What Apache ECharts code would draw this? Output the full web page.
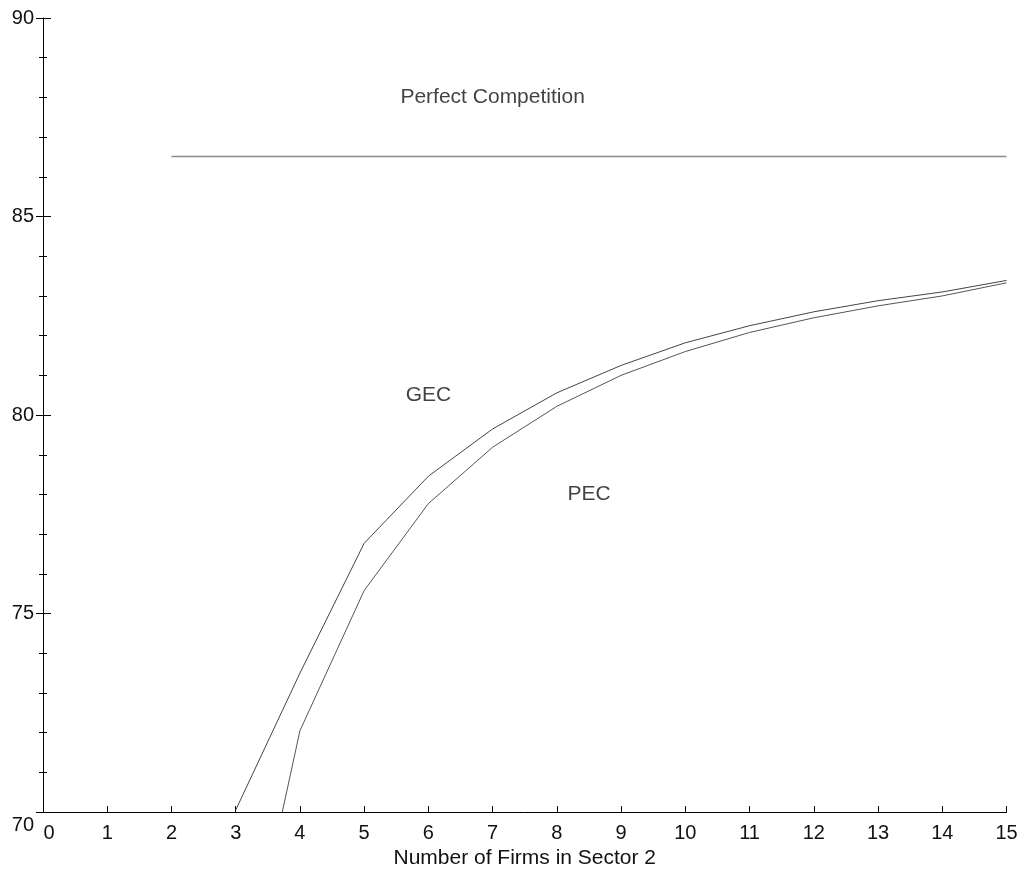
<!DOCTYPE html>
<html>
<head>
<meta charset="utf-8">
<script src="https://cdn.jsdelivr.net/npm/echarts@6/dist/echarts.min.js"></script>
<style>
html,body{margin:0;padding:0;background:#fff;}
#chart{width:1026px;height:874px;}
</style>
</head>
<body>
<div id="chart"></div>
<script>
var firms = [3, 4, 5, 6, 7, 8, 9, 10, 11, 12, 13, 14, 15];
var gecValues = [70.05, 73.5, 76.77, 78.46, 79.65, 80.56, 81.25, 81.82, 82.25, 82.6, 82.88, 83.1, 83.39];
var pecValues = [64.6, 72.05, 75.58, 77.77, 79.19, 80.22, 81.0, 81.6, 82.08, 82.45, 82.75, 83.0, 83.33];
var perfectX = [2, 15];
var perfectValues = [86.51, 86.51];
var curveLabels = [
  {name: 'Perfect Competition', x: 7, y: 88},
  {name: 'GEC', x: 6, y: 80.5},
  {name: 'PEC', x: 8.5, y: 78}
];
var xAxisTitle = 'Number of Firms in Sector 2';

var font = 'Liberation Sans, Arial, sans-serif';
function pairs(xs, ys){ return xs.map(function(x,i){ return [x, ys[i]]; }); }

var chart = echarts.init(document.getElementById('chart'));
chart.setOption({
  animation: false,
  backgroundColor: '#fff',
  grid: {left: 43, right: 19.5, top: 18, bottom: 61, containLabel: false},
  xAxis: {
    type: 'value', min: 0, max: 15, interval: 1,
    name: xAxisTitle, nameLocation: 'middle', nameGap: 33,
    nameTextStyle: {fontFamily: font, fontSize: 21, color: '#111'},
    axisLine: {show: true, onZero: false, lineStyle: {color: '#000', width: 1}},
    axisTick: {show: true, inside: true, length: 6, lineStyle: {color: '#000'}},
    axisLabel: {
      fontFamily: font, fontSize: 20, color: '#111', margin: 11,
      formatter: function(v){ return v === 0 ? '{z|0}' : String(v); },
      rich: {z: {fontFamily: font, fontSize: 20, color: '#111', padding: [0,0,0,12]}}
    },
    splitLine: {show: false}
  },
  yAxis: [{
    type: 'value', min: 70, max: 90, interval: 5,
    axisLine: {show: true, onZero: false, lineStyle: {color: '#000', width: 1}},
    axisTick: {show: true, inside: false, length: 7, lineStyle: {color: '#000'}},
    minorTick: {show: true, splitNumber: 5, length: 4, lineStyle: {color: '#000'}},
    axisLabel: {
      fontFamily: font, fontSize: 20, color: '#111', margin: 9,
      formatter: function(v){ return v === 70 ? '{d|70}' : String(v); },
      rich: {d: {fontFamily: font, fontSize: 20, color: '#111', padding: [26,0,0,0]}}
    },
    splitLine: {show: false}
  }, {
    type: 'value', min: 70, max: 90, interval: 5, position: 'left', offset: 0,
    axisLine: {show: false},
    axisTick: {show: true, inside: true, length: 8, lineStyle: {color: '#000'}},
    minorTick: {show: true, splitNumber: 5, length: 4, lineStyle: {color: '#000'}},
    axisLabel: {show: false},
    splitLine: {show: false}
  }],
  series: [
    {
      type: 'line', name: 'Perfect Competition', data: pairs(perfectX, perfectValues),
      showSymbol: false, symbol: 'none', lineStyle: {color: '#8c8c8c', width: 1.6}, clip: true
    },
    {
      type: 'line', name: 'GEC', data: pairs(firms, gecValues),
      showSymbol: false, symbol: 'none', lineStyle: {color: '#444', width: 1}, clip: true
    },
    {
      type: 'line', name: 'PEC', data: pairs(firms, pecValues),
      showSymbol: false, symbol: 'none', lineStyle: {color: '#555', width: 1}, clip: true
    },
    {
      type: 'scatter', symbolSize: 0, silent: true,
      data: curveLabels.map(function(d){ return {name: d.name, value: [d.x, d.y]}; }),
      label: {show: true, position: 'inside', formatter: '{b}',
        fontFamily: font, fontSize: 21, color: '#111'}
    }
  ]
});
</script>
</body>
</html>
